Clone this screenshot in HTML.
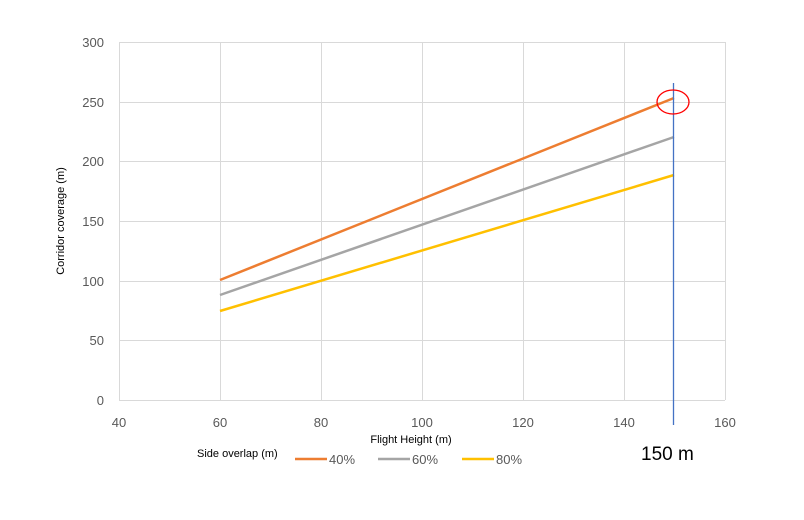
<!DOCTYPE html>
<html><head><meta charset="utf-8"><style>body{margin:0;background:#fff}svg{display:block}</style></head>
<body>
<svg width="804" height="520" xmlns="http://www.w3.org/2000/svg" font-family="Liberation Sans, sans-serif">
<rect width="804" height="520" fill="#fff"/>
<g stroke="#d9d9d9" stroke-width="1">
<line x1="119" y1="42.5" x2="725" y2="42.5"/>
<line x1="119" y1="102.5" x2="725" y2="102.5"/>
<line x1="119" y1="161.5" x2="725" y2="161.5"/>
<line x1="119" y1="221.5" x2="725" y2="221.5"/>
<line x1="119" y1="281.5" x2="725" y2="281.5"/>
<line x1="119" y1="340.5" x2="725" y2="340.5"/>
<line x1="119" y1="400.5" x2="725" y2="400.5"/>
<line x1="119.5" y1="42" x2="119.5" y2="400"/>
<line x1="220.5" y1="42" x2="220.5" y2="400"/>
<line x1="321.5" y1="42" x2="321.5" y2="400"/>
<line x1="422.5" y1="42" x2="422.5" y2="400"/>
<line x1="523.5" y1="42" x2="523.5" y2="400"/>
<line x1="624.5" y1="42" x2="624.5" y2="400"/>
<line x1="725.5" y1="42" x2="725.5" y2="400"/>
</g>
<g font-size="13" fill="#595959" text-anchor="end">
<text x="104" y="47">300</text><text x="104" y="107">250</text><text x="104" y="166">200</text>
<text x="104" y="226">150</text><text x="104" y="286">100</text><text x="104" y="345">50</text><text x="104" y="405">0</text>
</g>
<g font-size="13" fill="#595959" text-anchor="middle">
<text x="119" y="427">40</text><text x="220" y="427">60</text><text x="321" y="427">80</text>
<text x="422" y="427">100</text><text x="523" y="427">120</text><text x="624" y="427">140</text><text x="725" y="427">160</text>
</g>
<text x="64" y="221" font-size="11" fill="#000" text-anchor="middle" transform="rotate(-90 64 221)">Corridor coverage (m)</text>
<text x="411" y="443" font-size="11" fill="#000" text-anchor="middle">Flight Height (m)</text>
<g stroke-width="2.5" fill="none">
<line x1="220" y1="280" x2="674" y2="98" stroke="#ed7d31"/>
<line x1="220" y1="295" x2="674" y2="137" stroke="#a5a5a5"/>
<line x1="220" y1="311" x2="674" y2="175" stroke="#ffc000"/>
</g>
<line x1="673.5" y1="83" x2="673.5" y2="425" stroke="#4472c4" stroke-width="1.3"/>
<ellipse cx="673" cy="102" rx="16" ry="12" fill="none" stroke="#ff0000" stroke-width="1.3"/>
<text x="197" y="457" font-size="11" fill="#000">Side overlap (m)</text>
<line x1="295" y1="459" x2="327" y2="459" stroke="#ed7d31" stroke-width="2.5"/>
<text x="329" y="464" font-size="13" fill="#595959">40%</text>
<line x1="378" y1="459" x2="410" y2="459" stroke="#a5a5a5" stroke-width="2.5"/>
<text x="412" y="464" font-size="13" fill="#595959">60%</text>
<line x1="462" y1="459" x2="494" y2="459" stroke="#ffc000" stroke-width="2.5"/>
<text x="496" y="464" font-size="13" fill="#595959">80%</text>
<text x="641" y="460" font-size="19" fill="#000">150 m</text>
</svg>
</body></html>
